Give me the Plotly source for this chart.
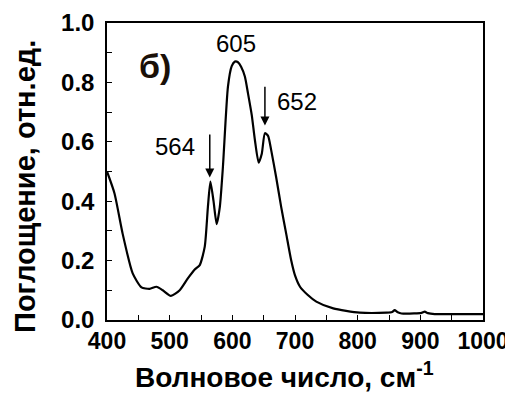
import plotly.graph_objects as go

# волновое число, см-1  /  поглощение, отн.ед.
wavenumber = [400, 412, 425, 441, 455, 468, 479, 489, 502, 516, 529, 540, 548, 556,
              561, 565, 570, 575, 580, 585, 593, 599, 604, 609, 614, 620, 625, 631,
              636, 642, 647, 652, 657, 662, 670, 678, 686, 694, 700, 708, 720, 734,
              761, 803, 846, 855, 859, 864, 870, 890, 902, 907, 912, 923, 960, 1000]
absorbance = [0.50, 0.426, 0.29, 0.157, 0.11, 0.105, 0.112, 0.10, 0.081, 0.10, 0.14, 0.17,
              0.185, 0.247, 0.38, 0.466, 0.40, 0.323, 0.38, 0.516, 0.786, 0.855, 0.87,
              0.868, 0.853, 0.82, 0.763, 0.69, 0.606, 0.53, 0.56, 0.629, 0.62, 0.572,
              0.48, 0.38, 0.29, 0.20, 0.15, 0.112, 0.085, 0.062, 0.039, 0.025, 0.025,
              0.027, 0.033, 0.026, 0.022, 0.022, 0.024, 0.028, 0.023, 0.02, 0.02, 0.02]

peak_labels = ['564', '605', '652']

FONT = 'Liberation Sans'

fig = go.Figure(go.Scatter(
    x=wavenumber, y=absorbance, mode='lines',
    line=dict(color='black', width=2.2, shape='spline', smoothing=0.6),
    hoverinfo='skip', showlegend=False,
))

axis_common = dict(
    showline=True, linecolor='black', linewidth=1.5, mirror=True,
    ticks='inside', tickcolor='black', ticklen=5, tickwidth=1,
    showgrid=False, zeroline=False, automargin=False,
    minor=dict(ticks='inside', ticklen=5, tickcolor='black', tickwidth=1),
)

fig.update_xaxes(range=[400, 1000], tick0=400, dtick=100,
                 tickfont=dict(family=FONT, size=23, color='black', weight='bold'),
                 **axis_common)
fig.update_yaxes(range=[0, 1.0], tick0=0, dtick=0.2, tickformat='.1f', ticklabelstandoff=6,
                 tickfont=dict(family=FONT, size=24, color='black', weight='bold'),
                 **axis_common)
fig.update_xaxes(minor=dict(dtick=50))
fig.update_yaxes(minor=dict(dtick=0.1))

# подписи осей
fig.add_annotation(text='<b>Волновое число, см<sup>-1</sup></b>', xref='paper', yref='paper',
                   x=0.473, y=0, yanchor='middle', yshift=-55, showarrow=False,
                   font=dict(family=FONT, size=28, color='black'))
fig.add_annotation(text='<b>Поглощение, отн.ед.</b>', xref='paper', yref='paper',
                   x=0, xanchor='center', xshift=-82, y=0.448, textangle=-90,
                   showarrow=False, font=dict(family=FONT, size=29, color='black'))

txt = dict(family=FONT, size=24, color='black')
# стрелки на пики
arrow = dict(xref='x', yref='y', axref='x', ayref='y', showarrow=True,
             arrowhead=2, arrowsize=1.2, arrowwidth=1.5, arrowcolor='black', text='')
fig.add_annotation(x=564, y=0.48, ax=564, ay=0.63, **arrow)
fig.add_annotation(x=652, y=0.655, ax=652, ay=0.79, **arrow)
fig.add_annotation(x=508, y=0.585, text=peak_labels[0], showarrow=False, font=txt)
fig.add_annotation(x=606, y=0.93, text=peak_labels[1], showarrow=False, font=txt)
fig.add_annotation(x=703, y=0.735, text=peak_labels[2], showarrow=False, font=txt)
fig.add_annotation(x=476, y=0.855, text='<b>б)</b>', showarrow=False,
                   font=dict(family=FONT, size=34, color='#1a1008'))

# страница рисуется со сдвигом 8 px (отступ body)
fig.update_layout(
    width=505, height=385,
    margin=dict(l=99, r=30, t=15, b=73),
    paper_bgcolor='white', plot_bgcolor='white',
)

fig.write_html('out.html')
